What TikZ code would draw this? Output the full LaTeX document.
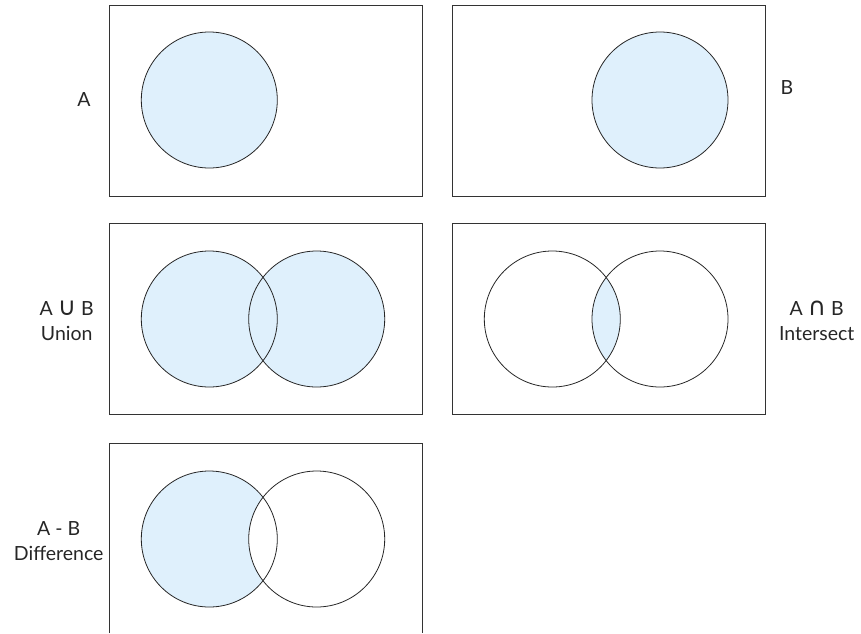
\documentclass[tikz,border=0pt]{standalone}
\usepackage{fontspec}
\setmainfont{Lato}
\newfontfamily\opfont{DejaVu Sans}

\definecolor{setblue}{RGB}{223,240,252}

\tikzset{
  frame/.style={draw=black!80, line width=0.9pt},
  ring/.style={draw=black!85, line width=0.8pt},
  setlabel/.style={font=\fontsize{19.5}{25}\selectfont, text=black!85, align=center, inner sep=0pt},
}

\begin{document}
\begin{tikzpicture}[x=1pt, y=-1pt]
  \useasboundingbox (0,0) rectangle (861,633);

  \def\R{68}        % circle radius
  \def\LX{209.3}    % left circle x
  \def\RX{316.7}    % right circle x (left column)
  \def\SX{552.3}    % left circle x (right column)
  \def\TX{660}      % right circle x (right column)

  % row 1: A and B
  \draw[frame] (109.3,5) rectangle (422.3,196.7);
  \draw[frame] (452.3,5) rectangle (765,196.7);
  \filldraw[ring, fill=setblue] (\LX,100) circle (\R);
  \filldraw[ring, fill=setblue] (\TX,100) circle (\R);
  \node[setlabel] (lblA) at (84,100) {A};
  \node[setlabel] (lblB) at (787,88) {B};

  % row 2: union and intersection
  \draw[frame] (109.3,223.3) rectangle (422.3,414.7);
  \draw[frame] (452.3,223.3) rectangle (765,414.7);
  \fill[setblue] (\LX,319) circle (\R) (\RX,319) circle (\R);
  \draw[ring] (\LX,319) circle (\R);
  \draw[ring] (\RX,319) circle (\R);
  \begin{scope}
    \clip (\SX,319) circle (\R);
    \fill[setblue] (\TX,319) circle (\R);
  \end{scope}
  \draw[ring] (\SX,319) circle (\R);
  \draw[ring] (\TX,319) circle (\R);
  \node[setlabel] (lblUnion) at (66.7,320.5) {A {\opfont\fontsize{25}{25}\selectfont∪} B\\Union};
  \node[setlabel] (lblInter) at (816.7,321) {A {\opfont\fontsize{25}{25}\selectfont∩} B\\Intersect};

  % row 3: difference
  \draw[frame] (109.3,633) -- (109.3,443.3) -- (422.3,443.3) -- (422.3,633);
  \fill[setblue] (\LX,539) circle (\R);
  \begin{scope}
    \clip (\LX,539) circle (\R);
    \fill[white] (\RX,539) circle (\R);
  \end{scope}
  \draw[ring] (\LX,539) circle (\R);
  \draw[ring] (\RX,539) circle (\R);
  \node[setlabel] (lblDiff) at (58.7,541.5) {A - B\\Difference};
\end{tikzpicture}
\end{document}
